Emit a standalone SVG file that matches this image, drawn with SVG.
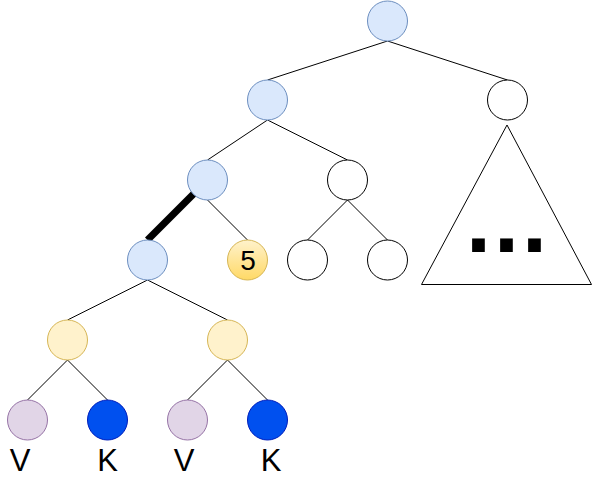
<svg xmlns="http://www.w3.org/2000/svg" width="592" height="483" viewBox="0 0 592 483">
<defs>
<linearGradient id="g5" x1="0" y1="0" x2="0" y2="1">
<stop offset="0" stop-color="#fff2cc"/>
<stop offset="1" stop-color="#ffd966"/>
</linearGradient>
<style>
.e{stroke:#000;stroke-width:1;fill:none}
.b{fill:#dae8fc;stroke:#6c8ebf}
.w{fill:#fff;stroke:#000}
.y{fill:#fff2cc;stroke:#d6b656}
.p{fill:#e1d5e7;stroke:#9673a6}
.k{fill:#0050ef;stroke:#001dbc}
.t{font-family:"Liberation Sans",Arial,sans-serif;fill:#000;text-anchor:middle}
</style>
</defs>
<rect width="592" height="483" fill="#fff"/>
<g id="connectors">
<line class="e" x1="387.5" y1="41" x2="267.5" y2="80"/>
<line class="e" x1="387.5" y1="41" x2="507.5" y2="80"/>
<line class="e" x1="267.5" y1="120" x2="207.5" y2="160"/>
<line class="e" x1="267.5" y1="120" x2="347.5" y2="160"/>
<line class="e" x1="207.5" y1="200" x2="247.5" y2="240"/>
<line x1="207.5" y1="180" x2="147.5" y2="240" stroke="#000" stroke-width="7"/>
<line class="e" x1="347.5" y1="200" x2="307.5" y2="240"/>
<line class="e" x1="347.5" y1="200" x2="387.5" y2="240"/>
<line class="e" x1="147.5" y1="280" x2="67.5" y2="320"/>
<line class="e" x1="147.5" y1="280" x2="227.5" y2="320"/>
<line class="e" x1="67.5" y1="360" x2="27.5" y2="400"/>
<line class="e" x1="67.5" y1="360" x2="107.5" y2="400"/>
<line class="e" x1="227.5" y1="360" x2="187.5" y2="400"/>
<line class="e" x1="227.5" y1="360" x2="267.5" y2="400"/>
</g>
<g id="root"><circle class="b" cx="387.5" cy="21" r="20"/></g>
<g id="n1l"><circle class="b" cx="267.5" cy="100" r="20"/></g>
<g id="n1r"><circle class="w" cx="507.5" cy="100" r="20"/></g>
<g id="subtree"><polygon points="507,125 591.5,284.5 421.5,284.5" fill="#fff" stroke="#000"/>
<text class="t" x="508" y="251.5" font-size="90" font-weight="bold" letter-spacing="3">...</text></g>
<g id="n2l"><circle class="b" cx="207.5" cy="180" r="20"/></g>
<g id="n2r"><circle class="w" cx="347.5" cy="180" r="20"/></g>
<g id="n3a"><circle class="b" cx="147.5" cy="260" r="20"/></g>
<g id="n3b"><circle cx="247.5" cy="260" r="20" fill="url(#g5)" stroke="#d6b656"/><text class="t" x="248" y="270" font-size="28">5</text></g>
<g id="n3c"><circle class="w" cx="307.5" cy="260" r="20"/></g>
<g id="n3d"><circle class="w" cx="387.5" cy="260" r="20"/></g>
<g id="n4a"><circle class="y" cx="67.5" cy="340" r="20"/></g>
<g id="n4b"><circle class="y" cx="227.5" cy="340" r="20"/></g>
<g id="n5a"><circle class="p" cx="27.5" cy="420" r="20"/><text class="t" x="20" y="471" font-size="31">V</text></g>
<g id="n5b"><circle class="k" cx="107.5" cy="420" r="20"/><text class="t" x="107.5" y="471" font-size="31">K</text></g>
<g id="n5c"><circle class="p" cx="187.5" cy="420" r="20"/><text class="t" x="184" y="471" font-size="31">V</text></g>
<g id="n5d"><circle class="k" cx="267.5" cy="420" r="20"/><text class="t" x="271" y="471" font-size="31">K</text></g>
</svg>
